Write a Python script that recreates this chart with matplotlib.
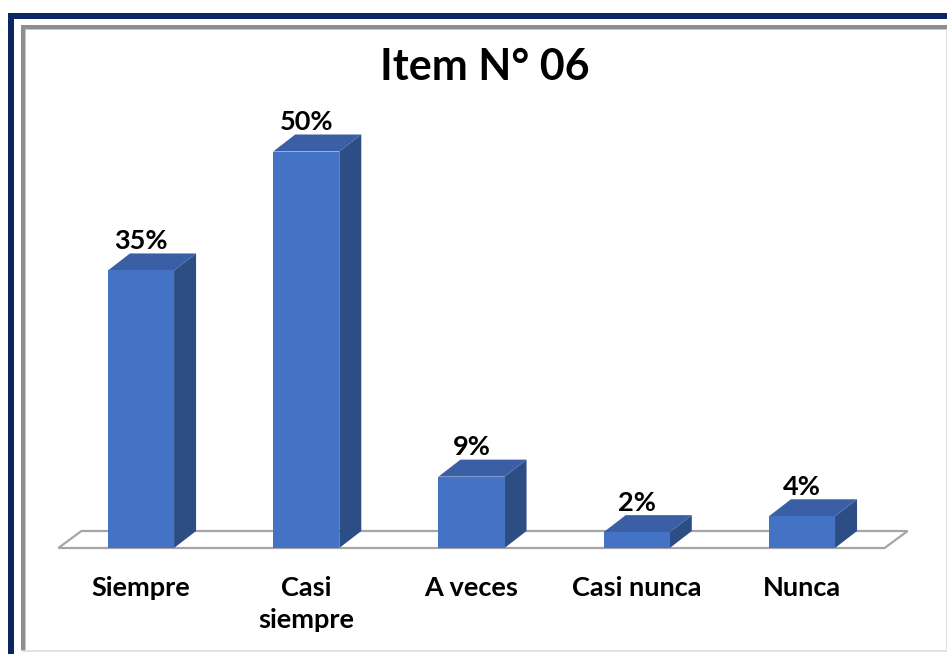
import matplotlib
matplotlib.use("Agg")
import matplotlib.pyplot as plt
from matplotlib.patches import Polygon
from matplotlib.lines import Line2D
from matplotlib.transforms import IdentityTransform

categories = ["Siempre", "Casi\nsiempre", "A veces", "Casi nunca", "Nunca"]
values = [35, 50, 9, 2, 4]
labels = ["35%", "50%", "9%", "2%", "4%"]
title = "Item N° 06"

W, H = 947, 654
FONT = ["Lato", "DejaVu Sans"]
plt.rcParams["font.family"] = FONT

FRONT = "#4472C4"
TOP = "#3A5FA5"
SIDE = "#2D4D85"

fig = plt.figure(figsize=(W / 100, H / 100), dpi=100)
fig.patch.set_facecolor("white")

x0, x1 = 58.4, 884.6
y_floor = 548
ymax = 60
px_per_pct = 7.93
ax_h = ymax * px_per_pct
ax = fig.add_axes([x0 / W, (H - y_floor) / H, (x1 - x0) / W, ax_h / H])
ax.set_xlim(-0.5, len(values) - 0.5)
ax.set_ylim(0, ymax)
ax.axis("off")

xu = len(values) / (x1 - x0)
yu = ymax / ax_h
dx, dy = 22 * xu, 17 * yu
fdx = 23 * xu
bw = 0.40

n = len(values)
floor = Polygon([(-0.5, 0), (n - 0.5, 0), (n - 0.5 + fdx, dy), (-0.5 + fdx, dy)],
                closed=True, facecolor="white", edgecolor="#A6A6A6", lw=1.6,
                zorder=1, clip_on=False)
ax.add_patch(floor)

xs = list(range(n))
ax.bar(xs, values, width=bw, color=FRONT, zorder=3, clip_on=False)
for x, v, lab in zip(xs, values, labels):
    l, r = x - bw / 2, x + bw / 2
    ax.add_patch(Polygon([(r, 0), (r + dx, dy), (r + dx, v + dy), (r, v)],
                         closed=True, facecolor=SIDE, edgecolor="none", zorder=2, clip_on=False))
    ax.add_patch(Polygon([(l, v), (r, v), (r + dx, v + dy), (l + dx, v + dy)],
                         closed=True, facecolor=TOP, edgecolor="none", zorder=2, clip_on=False))
    ax.annotate(lab, (x, v + dy), xytext=(0, 3), textcoords="offset points",
                ha="center", va="baseline", fontsize=19.5, fontweight="bold",
                color="black", annotation_clip=False)

for x, c in zip(xs, categories):
    ax.annotate(c, (x, 0), xytext=(0, -20), textcoords="offset points",
                ha="center", va="top", fontsize=19.5, fontweight="bold",
                color="black", linespacing=1.4, annotation_clip=False)

fig.text(485 / W, 1 - 80 / H, title, ha="center", va="baseline",
         fontsize=31, fontweight="bold", color="black")

T = IdentityTransform()
def P(x, y):
    return x, H - y

def line(pts, color, lw_px):
    xsl = [P(*p)[0] for p in pts]
    ysl = [P(*p)[1] for p in pts]
    fig.add_artist(Line2D(xsl, ysl, transform=T, color=color,
                          linewidth=lw_px * 72 / 100, solid_capstyle="butt",
                          solid_joinstyle="miter"))

line([(11, 700), (11, 16), (1000, 16)], "#0B2463", 6)
line([(22.5, 650), (22.5, 26.5), (1000, 26.5)], "#8E8E8E", 5)
line([(25, 650), (25, 29), (1000, 29)], "#C8C8C8", 1)
line([(22, 650.5), (946.5, 650.5), (946.5, 29)], "#D9D9D9", 1.5)

fig.savefig("out.png", dpi=100, facecolor="white")
